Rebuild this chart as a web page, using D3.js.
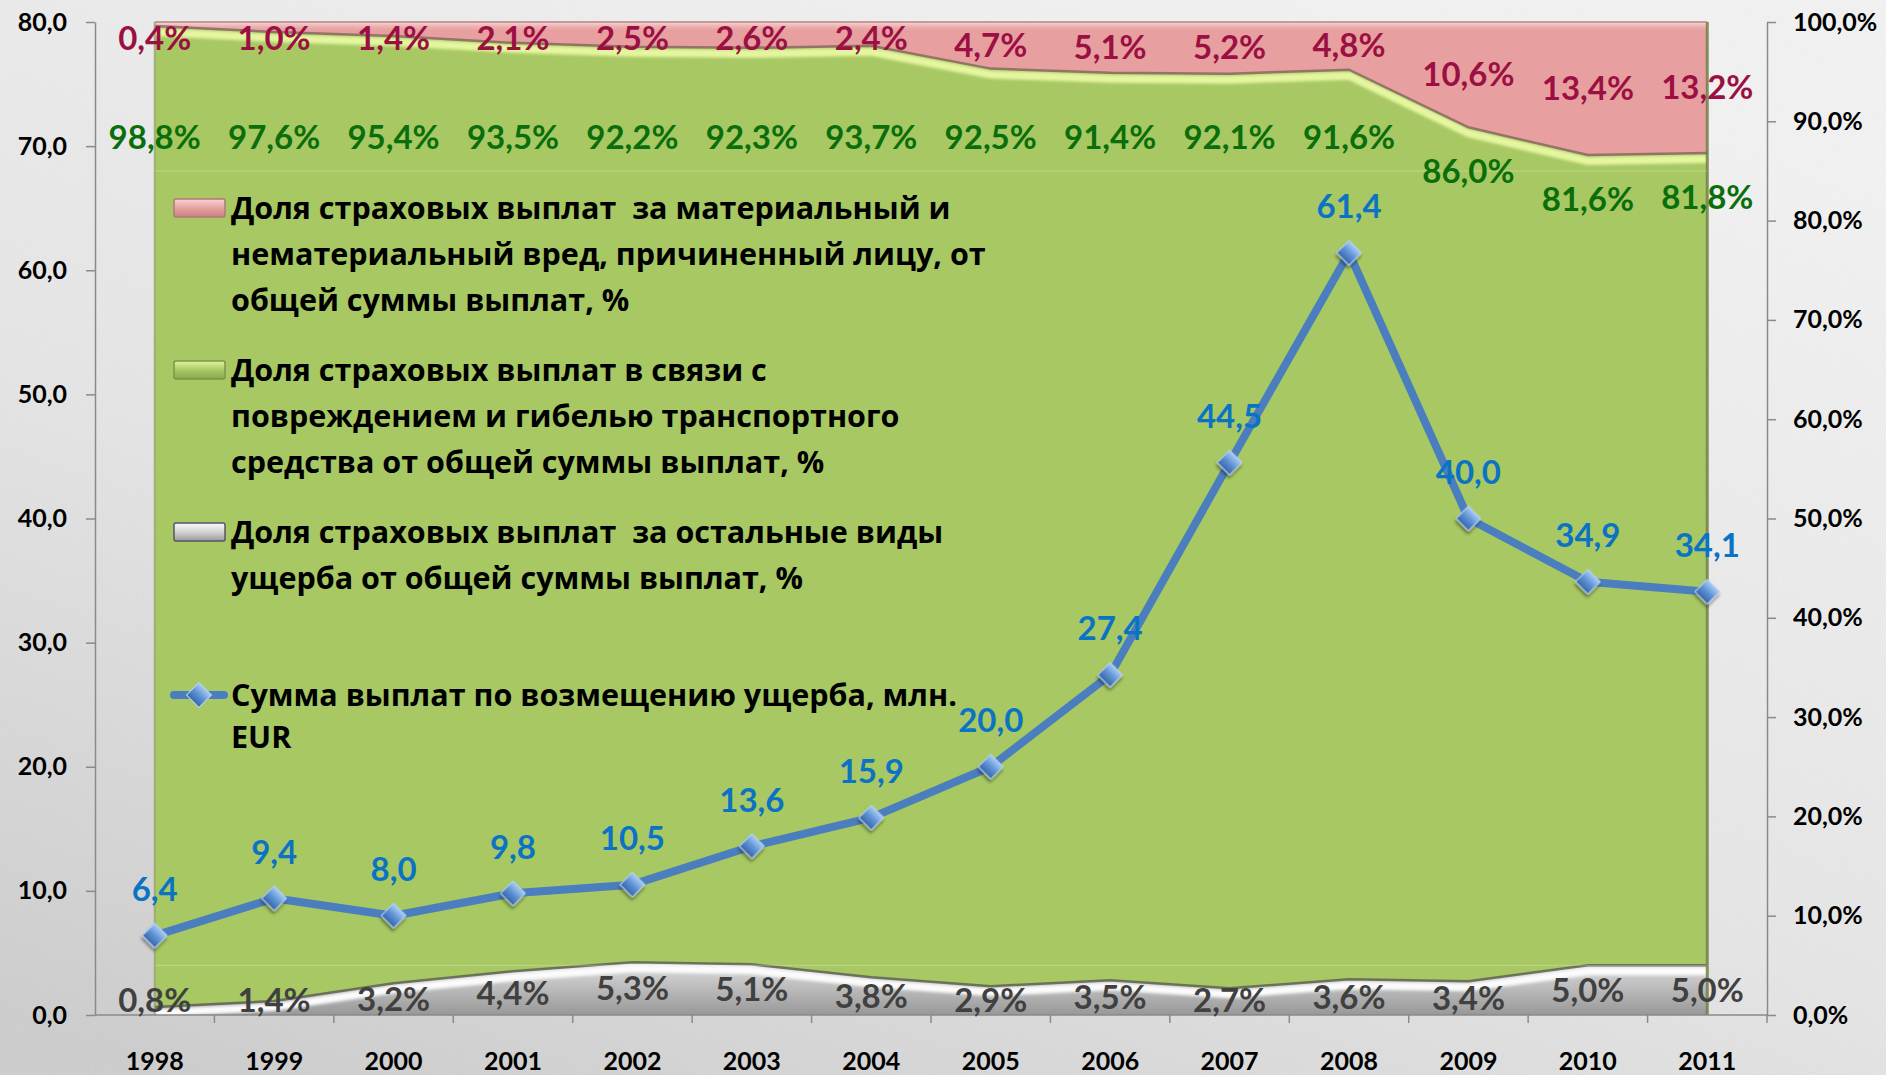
<html>
<head>
<meta charset="utf-8">
<script src="https://d3js.org/d3.v7.min.js"></script>
<style>
body { margin: 0; background: #e6e6e6; }
text { font-family: Lato, "Open Sans", sans-serif; font-weight: bold; }
text.leg { font-family: "Open Sans", Lato, sans-serif; }
</style>
</head>
<body>
<svg height="1075" width="1886" id="chart"></svg>
<script>

// data
var years = ["1998", "1999", "2000", "2001", "2002", "2003", "2004",
             "2005", "2006", "2007", "2008", "2009", "2010", "2011"];

// share of payouts for harm to a person, %
var personShare = [0.4, 1.0, 1.4, 2.1, 2.5, 2.6, 2.4, 4.7, 5.1, 5.2, 4.8, 10.6, 13.4, 13.2];
// share of payouts for vehicle damage, %
var vehicleShare = [98.8, 97.6, 95.4, 93.5, 92.2, 92.3, 93.7, 92.5, 91.4, 92.1, 91.6, 86.0, 81.6, 81.8];
// share of payouts for other damage, %
var otherShare = [0.8, 1.4, 3.2, 4.4, 5.3, 5.1, 3.8, 2.9, 3.5, 2.7, 3.6, 3.4, 5.0, 5.0];
// total payouts, mln EUR
var payoutSum = [6.4, 9.4, 8.0, 9.8, 10.5, 13.6, 15.9, 20.0, 27.4, 44.5, 61.4, 40.0, 34.9, 34.1];

var leftTicks = [0, 10, 20, 30, 40, 50, 60, 70, 80];
var rightTicks = [0, 10, 20, 30, 40, 50, 60, 70, 80, 90, 100];
var faintGrid = [5, 85];

var legendPerson = ["Доля страховых выплат  за материальный и",
                    "нематериальный вред, причиненный лицу, от",
                    "общей суммы выплат, %"];
var legendVehicle = ["Доля страховых выплат в связи с",
                     "повреждением и гибелью транспортного",
                     "средства от общей суммы выплат, %"];
var legendOther = ["Доля страховых выплат  за остальные виды",
                   "ущерба от общей суммы выплат, %"];
var legendSum = ["Сумма выплат по возмещению ущерба, млн.",
                 "EUR"];

var svg = d3.select("#chart");
var defs = svg.append("defs");

// comma decimal like the original
var fmt1 = function(v) { return d3.format(".1f")(v).replace(".", ","); };

// ---- background paper ----
var bg = defs.append("linearGradient").attr("id", "bgGrad")
  .attr("x1", "0.7").attr("y1", "0").attr("x2", "0.1").attr("y2", "1");
bg.append("stop").attr("offset", "0").attr("stop-color", "#f6f6f6");
bg.append("stop").attr("offset", "0.55").attr("stop-color", "#e9e9e9");
bg.append("stop").attr("offset", "1").attr("stop-color", "#cfcfcf");

var noise = defs.append("filter").attr("id", "noise")
  .attr("x", 0).attr("y", 0).attr("width", "100%").attr("height", "100%");
noise.append("feTurbulence").attr("type", "fractalNoise")
  .attr("baseFrequency", 0.85).attr("numOctaves", 3).attr("stitchTiles", "stitch");
noise.append("feColorMatrix").attr("type", "matrix")
  .attr("values", "0.33 0.33 0.33 0 0  0.33 0.33 0.33 0 0  0.33 0.33 0.33 0 0  0 0 0 0 1");

svg.append("rect").attr("width", 1886).attr("height", 1075).attr("fill", "url(#bgGrad)");
svg.append("rect").attr("width", 1886).attr("height", 1075)
  .attr("filter", "url(#noise)").attr("opacity", 0.09);

// ---- scales ----
var x = d3.scaleBand().domain(years).range([95, 1767]);
var cx = function(d) { return x(d) + x.bandwidth() / 2; };
var yLeft = d3.scaleLinear().domain([0, 80]).range([1015, 22]);
var yRight = d3.scaleLinear().domain([0, 100]).range([1015, 22]);
var yShare = d3.scaleLinear().domain([0, 1]).range([1015, 22]);

var rows = years.map(function(y, i) {
  return {year: y, other: otherShare[i], vehicle: vehicleShare[i], person: personShare[i]};
});
var series = d3.stack().keys(["other", "vehicle", "person"])
  .offset(d3.stackOffsetExpand)(rows);

var area = d3.area()
  .x(function(d) { return cx(d.data.year); })
  .y0(function(d) { return yShare(d[0]); })
  .y1(function(d) { return yShare(d[1]); });
var topLine = d3.line()
  .x(function(d) { return cx(d.data.year); })
  .y(function(d) { return yShare(d[1]); });

// ---- gradients for areas ----
var greyGrad = defs.append("linearGradient").attr("id", "greyGrad")
  .attr("gradientUnits", "userSpaceOnUse").attr("x1", 0).attr("y1", 960).attr("x2", 0).attr("y2", 1015);
greyGrad.append("stop").attr("offset", "0").attr("stop-color", "#e0e0e0");
greyGrad.append("stop").attr("offset", "1").attr("stop-color", "#989898");

var redTop = defs.append("linearGradient").attr("id", "redTop")
  .attr("x1", 0).attr("y1", 0).attr("x2", 0).attr("y2", 1);
redTop.append("stop").attr("offset", "0").attr("stop-color", "#fbe0e0").attr("stop-opacity", 0.9);
redTop.append("stop").attr("offset", "1").attr("stop-color", "#e8a3a3").attr("stop-opacity", 0);

var soft = defs.append("filter").attr("id", "soft");
soft.append("feGaussianBlur").attr("stdDeviation", 1.6);

var areaColors = {other: "url(#greyGrad)", vehicle: "#a7c863", person: "#e79f9f"};

series.forEach(function(s) {
  defs.append("clipPath").attr("id", "clip-" + s.key)
    .append("path").attr("d", area(s));
});

svg.selectAll(".band").data(series).enter().append("path")
  .attr("class", "band")
  .attr("d", area)
  .attr("fill", function(s) { return areaColors[s.key]; });

// bevel highlights along the top of each band
svg.append("rect")
  .attr("x", cx(years[0])).attr("y", yShare(1))
  .attr("width", cx(years[years.length - 1]) - cx(years[0])).attr("height", 10)
  .attr("fill", "url(#redTop)");

svg.append("g").attr("clip-path", "url(#clip-vehicle)")
  .append("path")
  .attr("d", topLine(series[1]))
  .attr("transform", "translate(0,6)")
  .attr("fill", "none").attr("stroke", "#e6f6a0").attr("stroke-width", 8)
  .attr("filter", "url(#soft)");

svg.append("g").attr("clip-path", "url(#clip-other)")
  .append("path")
  .attr("d", topLine(series[0]))
  .attr("transform", "translate(0,6)")
  .attr("fill", "none").attr("stroke", "#fbfbfb").attr("stroke-width", 8)
  .attr("filter", "url(#soft)");

svg.append("path").attr("d", topLine(series[1]))
  .attr("fill", "none").attr("stroke", "#86685e").attr("stroke-width", 2.5).attr("opacity", 0.85);
svg.append("path").attr("d", topLine(series[0]))
  .attr("fill", "none").attr("stroke", "#5d6150").attr("stroke-width", 2.5).attr("opacity", 0.85);
svg.append("path").attr("d", topLine(series[2]))
  .attr("fill", "none").attr("stroke", "#b78383").attr("stroke-width", 1.5);

// edges of the plot block
svg.append("line")
  .attr("x1", cx(years[years.length - 1])).attr("x2", cx(years[years.length - 1]))
  .attr("y1", yShare(1)).attr("y2", yShare(0))
  .attr("stroke", "#6c7c44").attr("stroke-width", 3).attr("opacity", 0.8);
svg.append("line")
  .attr("x1", cx(years[0])).attr("x2", cx(years[0]))
  .attr("y1", yShare(1)).attr("y2", yShare(0))
  .attr("stroke", "#8f9f6a").attr("stroke-width", 2).attr("opacity", 0.7);

// faint guide lines
svg.selectAll(".faint").data(faintGrid).enter().append("line")
  .attr("x1", cx(years[0])).attr("x2", cx(years[years.length - 1]))
  .attr("y1", function(d) { return yRight(d); }).attr("y2", function(d) { return yRight(d); })
  .attr("stroke", "#ffffff").attr("stroke-width", 1).attr("opacity", 0.25);

// ---- axes ----
var axisColor = "#8a8a8a";

var leftAxis = svg.append("g").attr("transform", "translate(95,0)")
  .call(d3.axisLeft(yLeft).tickValues(leftTicks).tickFormat(fmt1)
    .tickSize(9).tickSizeOuter(0).tickPadding(19));
var rightAxis = svg.append("g").attr("transform", "translate(1767,0)")
  .call(d3.axisRight(yRight).tickValues(rightTicks)
    .tickFormat(function(d) { return fmt1(d) + "%"; })
    .tickSize(9).tickSizeOuter(0).tickPadding(17));
[leftAxis, rightAxis].forEach(function(a) {
  a.select(".domain").attr("stroke", axisColor).attr("stroke-width", 1.5);
  a.selectAll(".tick line").attr("stroke", axisColor).attr("stroke-width", 1.5);
  a.selectAll(".tick text").attr("fill", "#000").style("font-size", "25px");
});

var bottom = svg.append("g");
bottom.append("line")
  .attr("x1", 95).attr("x2", 1767).attr("y1", 1015).attr("y2", 1015)
  .attr("stroke", axisColor).attr("stroke-width", 1.5);
bottom.selectAll(".xtick").data(years).enter().append("line")
  .attr("x1", function(d) { return x(d) + x.bandwidth(); })
  .attr("x2", function(d) { return x(d) + x.bandwidth(); })
  .attr("y1", 1015).attr("y2", 1023)
  .attr("stroke", axisColor).attr("stroke-width", 1.5);
bottom.selectAll(".xlab").data(years).enter().append("text")
  .attr("x", cx).attr("y", 1061).attr("dy", "0.35em")
  .attr("text-anchor", "middle").style("font-size", "25px").attr("fill", "#000")
  .text(function(d) { return d; });

// ---- legend ----
var legend = svg.append("g");
var legendSize = "30.5px";

var swatchGrad = function(id, light, mid, dark) {
  var g = defs.append("linearGradient").attr("id", id)
    .attr("x1", 0).attr("y1", 0).attr("x2", 0).attr("y2", 1);
  g.append("stop").attr("offset", "0").attr("stop-color", light);
  g.append("stop").attr("offset", "0.5").attr("stop-color", mid);
  g.append("stop").attr("offset", "1").attr("stop-color", dark);
};
swatchGrad("swRed", "#f8d2d2", "#e6a2a1", "#c98282");
swatchGrad("swGreen", "#e4f4a0", "#a7c863", "#8aa84c");
swatchGrad("swGrey", "#fafafa", "#d4d4d4", "#9a9a9a");

var legendItems = [
  {lines: legendPerson, y: 208, fill: "url(#swRed)", stroke: "#b07a7a"},
  {lines: legendVehicle, y: 370, fill: "url(#swGreen)", stroke: "#7d9446"},
  {lines: legendOther, y: 532, fill: "url(#swGrey)", stroke: "#5b5368"}
];
legendItems.forEach(function(it) {
  legend.append("rect")
    .attr("x", 174).attr("y", it.y - 9).attr("width", 51).attr("height", 18).attr("rx", 2)
    .attr("fill", it.fill).attr("stroke", it.stroke).attr("stroke-width", 1.5);
  legend.append("text").attr("class", "leg")
    .attr("x", 231).attr("y", it.y).style("font-size", legendSize).style("white-space", "pre")
    .attr("fill", "#000")
    .selectAll("tspan").data(it.lines).enter().append("tspan")
    .attr("x", 231).attr("dy", function(d, i) { return i === 0 ? "0.35em" : "46px"; })
    .text(function(d) { return d; });
});

// line sample in legend
legend.append("line").attr("x1", 174).attr("x2", 224).attr("y1", 695).attr("y2", 695)
  .attr("stroke", "#4a7ebf").attr("stroke-width", 8).attr("stroke-linecap", "round");

var mkGrad = defs.append("linearGradient").attr("id", "mkGrad")
  .attr("x1", 0).attr("y1", 0).attr("x2", 0).attr("y2", 1);
mkGrad.append("stop").attr("offset", "0").attr("stop-color", "#a9ccf4");
mkGrad.append("stop").attr("offset", "0.5").attr("stop-color", "#5f93d6");
mkGrad.append("stop").attr("offset", "1").attr("stop-color", "#3766a8");

var shadow = defs.append("filter").attr("id", "mkShadow")
  .attr("x", "-50%").attr("y", "-50%").attr("width", "200%").attr("height", "200%");
shadow.append("feDropShadow").attr("dx", 1.5).attr("dy", 2.5).attr("stdDeviation", 1.5)
  .attr("flood-color", "#000").attr("flood-opacity", 0.45);

var diamond = d3.symbol().type(d3.symbolSquare).size(310);

legend.append("path").attr("d", diamond)
  .attr("transform", "translate(199,695) rotate(45)")
  .attr("fill", "url(#mkGrad)").attr("stroke", "#b9d3f2").attr("stroke-width", 1);

legend.append("text").attr("class", "leg")
  .attr("x", 231).attr("y", 695).style("font-size", legendSize).attr("fill", "#000")
  .selectAll("tspan").data(legendSum).enter().append("tspan")
  .attr("x", 231).attr("dy", function(d, i) { return i === 0 ? "0.35em" : "42px"; })
  .text(function(d) { return d; });

// ---- payout line ----
var line = d3.line()
  .x(function(d, i) { return cx(years[i]); })
  .y(function(d) { return yLeft(d); });

svg.append("path").datum(payoutSum)
  .attr("d", line)
  .attr("fill", "none").attr("stroke", "#4a7ebf").attr("stroke-width", 8)
  .attr("stroke-linejoin", "round");

svg.selectAll(".mk").data(payoutSum).enter().append("path")
  .attr("class", "mk")
  .attr("d", diamond)
  .attr("transform", function(d, i) { return "translate(" + cx(years[i]) + "," + yLeft(d) + ") rotate(45)"; })
  .attr("fill", "url(#mkGrad)").attr("stroke", "#b9d3f2").attr("stroke-width", 1)
  .attr("filter", "url(#mkShadow)");

// ---- data labels ----
var labelSize = "33px";

svg.selectAll(".lbSum").data(payoutSum).enter().append("text")
  .attr("x", function(d, i) { return cx(years[i]); })
  .attr("y", function(d) { return yLeft(d) - 46; })
  .attr("dy", "0.35em").attr("text-anchor", "middle")
  .style("font-size", labelSize).attr("fill", "#0b72c4")
  .text(fmt1);

// person share: centred in its band, kept off the top edge
svg.selectAll(".lbPerson").data(series[2]).enter().append("text")
  .attr("x", function(d) { return cx(d.data.year); })
  .attr("y", function(d) { return Math.max((yShare(d[0]) + yShare(d[1])) / 2, 38); })
  .attr("dy", "0.35em").attr("text-anchor", "middle")
  .style("font-size", labelSize).attr("fill", "#9b0f42")
  .text(function(d) { return fmt1(d.data.person) + "%"; });

// vehicle share: near the top of the green band
svg.selectAll(".lbVehicle").data(series[1]).enter().append("text")
  .attr("x", function(d) { return cx(d.data.year); })
  .attr("y", function(d) { return Math.max(yShare(d[1]) + 44, 137); })
  .attr("dy", "0.35em").attr("text-anchor", "middle")
  .style("font-size", labelSize).attr("fill", "#0a6e0a")
  .text(function(d) { return fmt1(d.data.vehicle) + "%"; });

// other share: centred in the grey band, kept above the axis
svg.selectAll(".lbOther").data(series[0]).enter().append("text")
  .attr("x", function(d) { return cx(d.data.year); })
  .attr("y", function(d) { return Math.min((yShare(d[0]) + yShare(d[1])) / 2, 1000); })
  .attr("dy", "0.35em").attr("text-anchor", "middle")
  .style("font-size", labelSize).attr("fill", "#404040")
  .text(function(d) { return fmt1(d.data.other) + "%"; });

</script>
</body>
</html>
